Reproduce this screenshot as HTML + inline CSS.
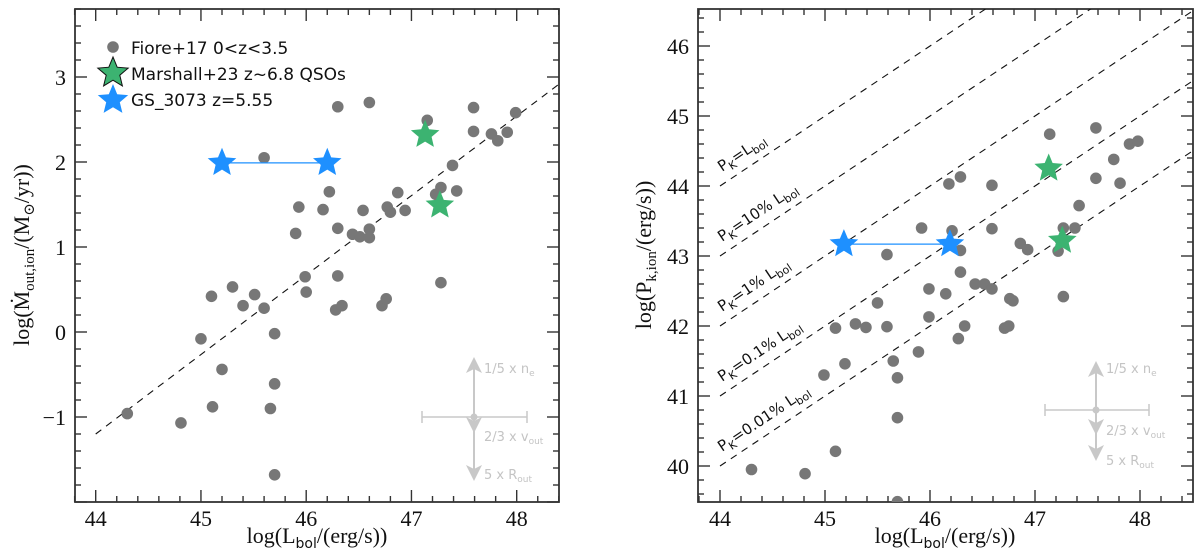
<!DOCTYPE html>
<html><head><meta charset="utf-8"><style>
html,body{margin:0;padding:0;background:#fff;}
svg{display:block;}
.tk{font-family:"Liberation Serif","DejaVu Serif",serif;font-size:22px;fill:#111;}
.lg{font-family:"DejaVu Sans","Liberation Sans",sans-serif;font-size:17px;fill:#111;}
.an{font-family:"DejaVu Sans","Liberation Sans",sans-serif;font-size:13px;fill:#c4c4c4;}
.ln{font-family:"DejaVu Sans","Liberation Sans",sans-serif;font-size:15px;fill:#111;}
</style></head><body>
<svg id="fig" width="1200" height="555" viewBox="0 0 1200 555" xmlns="http://www.w3.org/2000/svg">
<defs>
<clipPath id="cL"><rect x="75" y="9" width="484" height="493"/></clipPath>
<clipPath id="cR"><rect x="698" y="9" width="495" height="493"/></clipPath>
</defs>
</svg>
<script>
// ---- data: left panel (log Mdot_out,ion) ----
const leftL = [46.30,46.60,45.60,47.15,47.59,47.59,47.99,47.76,47.82,47.91,47.39,47.28,47.23,47.43,46.22,45.93,46.16,46.54,46.87,46.77,46.80,46.94,45.90,46.30,46.44,46.51,46.60,46.60,45.99,46.30,47.28,46.00,45.30,45.10,45.51,45.40,45.60,46.28,46.34,46.72,46.76,45.70,45.00,45.20,45.70,45.11,45.66,44.30,44.81,45.70];
const leftM = [2.65,2.70,2.05,2.49,2.64,2.36,2.58,2.33,2.25,2.35,1.96,1.70,1.62,1.66,1.65,1.47,1.44,1.43,1.64,1.47,1.41,1.43,1.16,1.22,1.15,1.12,1.21,1.11,0.65,0.66,0.58,0.47,0.53,0.42,0.44,0.31,0.28,0.26,0.31,0.31,0.39,-0.02,-0.08,-0.44,-0.61,-0.88,-0.90,-0.96,-1.07,-1.68];
const leftGreenL = [47.13,47.27];
const leftGreenM = [2.32,1.49];
const leftBlueL = [45.20,46.20];
const leftBlueM = [1.99,1.99];
// ---- data: right panel (log P_k,ion) ----
const rightL = [47.14,47.58,47.90,47.98,47.75,47.58,47.81,46.18,46.29,46.59,47.42,47.27,47.38,47.22,45.92,46.21,46.59,46.86,46.93,45.59,46.29,46.29,46.43,46.52,46.59,45.99,46.15,46.76,46.79,47.27,45.50,45.10,45.29,45.39,45.59,45.99,46.33,46.27,46.71,46.75,45.89,45.19,44.99,45.65,45.69,45.69,45.10,44.30,44.81,45.69];
const rightP = [44.74,44.83,44.60,44.64,44.38,44.11,44.04,44.03,44.13,44.01,43.72,43.40,43.40,43.07,43.40,43.36,43.39,43.18,43.09,43.02,43.08,42.77,42.60,42.60,42.53,42.53,42.46,42.39,42.36,42.42,42.33,41.97,42.03,41.98,41.99,42.13,42.00,41.82,41.97,42.00,41.63,41.46,41.30,41.50,41.26,40.69,40.21,39.95,39.89,39.49];
const rightGreenL = [47.13,47.26];
const rightGreenP = [44.25,43.22];
const rightBlueL = [45.18,46.19];
const rightBlueP = [43.17,43.17];
const fracOffsets = [0,-1,-2,-3,-4];
const fracLabels = ["=L","=10% L","=1% L","=0.1% L","=0.01% L"];
const xTicks = [44,45,46,47,48];
const leftYTicks = [-1,0,1,2,3];
const rightYTicks = [40,41,42,43,44,45,46];

const NS="http://www.w3.org/2000/svg";
const svg=document.getElementById('fig');
function mk(tag,attrs,parent){const e=document.createElementNS(NS,tag);for(const k in attrs)e.setAttribute(k,attrs[k]);(parent||svg).appendChild(e);return e;}

const LX=v=>95.7+(v-44)*105.25, LY=v=>332-v*85;
const RX=v=>720+(v-44)*105, RY=v=>466-(v-40)*70;

function starPath(cx,cy,r){let d='';for(let i=0;i<10;i++){const rr=i%2?r*0.45:r;const a=-Math.PI/2+i*Math.PI/5;d+=(i?'L':'M')+(cx+rr*Math.cos(a)).toFixed(1)+' '+(cy+rr*Math.sin(a)).toFixed(1);}return d+'Z';}

function frame(x0,y0,x1,y1,X,Y,xmin,xmax,ymin,ymax,yt,name){
  const g=mk('g',{});
  
  
  mk('rect',{x:x0,y:y0,width:x1-x0,height:y1-y0,fill:'none',stroke:'#333','stroke-width':1.8},g);
  for(let v=Math.ceil(xmin*5)/5;v<=xmax+1e-6;v+=0.2){
    const maj=Math.abs(v-Math.round(v))<1e-6, L=maj?12:6, x=X(v);
    mk('line',{x1:x,x2:x,y1:y1,y2:y1-L,stroke:'#333','stroke-width':1.4},g);
    mk('line',{x1:x,x2:x,y1:y0,y2:y0+L,stroke:'#333','stroke-width':1.4},g);
  }
  for(let v=Math.ceil(ymin*5)/5;v<=ymax+1e-6;v+=0.2){
    const maj=Math.abs(v-Math.round(v))<1e-6, L=maj?12:6, y=Y(v);
    mk('line',{x1:x0,x2:x0+L,y1:y,y2:y,stroke:'#333','stroke-width':1.4},g);
    mk('line',{x1:x1,x2:x1-L,y1:y,y2:y,stroke:'#333','stroke-width':1.4},g);
  }
  xTicks.forEach(v=>{const t=mk('text',{x:X(v),y:y1+24,'text-anchor':'middle',class:'tk'},g);t.textContent=v;
    
    });
  yt.forEach(v=>{const t=mk('text',{x:x0-9,y:Y(v)+8,'text-anchor':'end',class:'tk'},g);t.textContent=(v<0?'\u2212'+(-v):v);
    
    });
}

function dots(xs,ys,X,Y,clip,name){
  const g=mk('g',{'clip-path':'url(#'+clip+')'});
  
  
  xs.forEach((v,i)=>{const c=mk('circle',{cx:X(v),cy:Y(ys[i]),r:5.8,fill:'#777'},g);
    
    });
}
function stars(xs,ys,X,Y,col,name,line){
  const g=mk('g',{});
  
  
  if(line) mk('line',{x1:X(xs[0]),x2:X(xs[1]),y1:Y(ys[0]),y2:Y(ys[1]),stroke:col,'stroke-width':1.3},g);
  xs.forEach((v,i)=>{const s=mk('path',{d:starPath(X(v),Y(ys[i]),15),fill:col},g);
    
    });
}
function cross(cx,cy,x0,x1,up,dn1,dn2,labels,ly){
  const g=mk('g',{});
  
  
  const c='#c8c8c8';
  mk('line',{x1:x0,x2:x1,y1:cy,y2:cy,stroke:c,'stroke-width':1.5},g);
  mk('line',{x1:x0,x2:x0,y1:cy-6,y2:cy+6,stroke:c,'stroke-width':1.5},g);
  mk('line',{x1:x1,x2:x1,y1:cy-6,y2:cy+6,stroke:c,'stroke-width':1.5},g);
  mk('line',{x1:cx,x2:cx,y1:up+10,y2:dn2-10,stroke:c,'stroke-width':2},g);
  mk('path',{d:`M${cx} ${up}L${cx-8} ${up+16}L${cx} ${up+12}L${cx+8} ${up+16}Z`,fill:c},g);
  mk('path',{d:`M${cx} ${dn1}L${cx-8} ${dn1-16}L${cx} ${dn1-12}L${cx+8} ${dn1-16}Z`,fill:c},g);
  mk('path',{d:`M${cx} ${dn2}L${cx-8} ${dn2-16}L${cx} ${dn2-12}L${cx+8} ${dn2-16}Z`,fill:c},g);
  mk('circle',{cx:cx,cy:cy,r:3.5,fill:c},g);
  labels.forEach((l,i)=>{const t=mk('text',{x:cx+10,y:ly[i],class:'an'},g);t.innerHTML=l;});
}

// ---------- LEFT PANEL ----------
frame(75,9,559,502,LX,LY,43.8,48.4,-2,3.8,leftYTicks,'left');
mk('line',{x1:LX(44),y1:LY(-1.2),x2:LX(48.4),y2:LY(-1.2+0.935*4.4),stroke:'#111','stroke-width':1.1,'stroke-dasharray':'7 6','clip-path':'url(#cL)'});
cross(474,417,422,527,357,433,481,['1/5 x n<tspan font-size="9" dy="3">e</tspan>','2/3 x v<tspan font-size="9" dy="3">out</tspan>','5 x R<tspan font-size="9" dy="3">out</tspan>'],[373,441,479]);
dots(leftL,leftM,LX,LY,'cL','left-fiore-points');
stars(leftBlueL,leftBlueM,LX,LY,'#1e90ff','left-gs3073-stars',true);
stars(leftGreenL,leftGreenM,LX,LY,'#3cb371','left-marshall-stars',false);
const lg=mk('g',{});


mk('circle',{cx:113,cy:47,r:5.8,fill:'#777'},lg);
mk('path',{d:starPath(113,73,16),fill:'#3cb371',stroke:'#111','stroke-width':1},lg);
mk('path',{d:starPath(113,100,16),fill:'#1e90ff'},lg);
[['Fiore+17 0&lt;z&lt;3.5',54],['Marshall+23 z~6.8 QSOs',80],['GS_3073 z=5.55',106]].forEach(a=>{const t=mk('text',{x:131,y:a[1],class:'lg'},lg);t.innerHTML=a[0];
  
  });
let t=mk('text',{x:0,y:0,class:'tk',transform:'translate(29,255) rotate(-90)','text-anchor':'middle'});
t.innerHTML='log(<tspan>M&#775;</tspan><tspan font-size="15" dy="5">out,ion</tspan><tspan dy="-5">/(M</tspan><tspan font-size="15" dy="5">&#8857;</tspan><tspan dy="-5">/yr))</tspan>';


t=mk('text',{x:317,y:543,class:'tk','text-anchor':'middle'});
t.innerHTML='log(L<tspan font-size="14" font-family="DejaVu Sans" dy="5">bol</tspan><tspan dy="-5">/(erg/s))</tspan>';



// ---------- RIGHT PANEL ----------
frame(698,9,1193,502,RX,RY,43.8,48.5,39.5,46.55,rightYTicks,'right');
const ang=-Math.atan(70/105)*180/Math.PI;
fracOffsets.forEach((o,i)=>{
  const l=mk('line',{x1:RX(44),y1:RY(44+o),x2:RX(48.6),y2:RY(48.6+o),stroke:'#111','stroke-width':1.1,'stroke-dasharray':'7 6','clip-path':'url(#cR)'});
  
  
  const tx=RX(44)+2, ty=RY(44+o)-14;
  const tt=mk('text',{x:tx,y:ty,class:'ln',transform:`rotate(${ang} ${tx} ${ty})`});
  const lab=fracLabels[i];
  tt.innerHTML='P<tspan font-size="11" dy="4">K</tspan><tspan dy="-4">'+lab+'</tspan><tspan font-size="11" dy="4">bol</tspan>';
  
  
});
cross(1096,410,1045,1149,361,435,461,['1/5 x n<tspan font-size="9" dy="3">e</tspan>','2/3 x v<tspan font-size="9" dy="3">out</tspan>','5 x R<tspan font-size="9" dy="3">out</tspan>'],[373,435,465]);
dots(rightL,rightP,RX,RY,'cR','right-fiore-points');
stars(rightBlueL,rightBlueP,RX,RY,'#1e90ff','right-gs3073-stars',true);
stars(rightGreenL,rightGreenP,RX,RY,'#3cb371','right-marshall-stars',false);
t=mk('text',{x:0,y:0,class:'tk',transform:'translate(651,255) rotate(-90)','text-anchor':'middle'});
t.innerHTML='log(P<tspan font-size="15" dy="5">k,ion</tspan><tspan dy="-5">/(erg/s))</tspan>';


t=mk('text',{x:945,y:543,class:'tk','text-anchor':'middle'});
t.innerHTML='log(L<tspan font-size="14" font-family="DejaVu Sans" dy="5">bol</tspan><tspan dy="-5">/(erg/s))</tspan>';


</script>
</body></html>
